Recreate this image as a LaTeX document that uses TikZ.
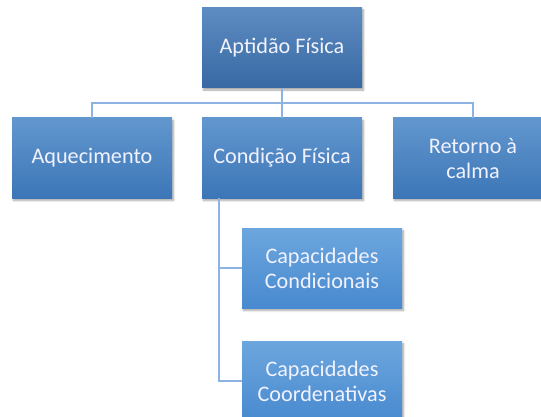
\documentclass[tikz,border=0pt]{standalone}
\usepackage{fontspec}
\setmainfont{Carlito}
\usepackage{xcolor}
\usetikzlibrary{shadows.blur}
\usetikzlibrary{positioning}

\definecolor{topA}{RGB}{92,140,193}
\definecolor{topB}{RGB}{57,105,163}
\definecolor{midA}{RGB}{98,151,206}
\definecolor{midB}{RGB}{60,118,183}
\definecolor{lowA}{RGB}{108,166,222}
\definecolor{lowB}{RGB}{72,138,207}
\definecolor{linkcol}{RGB}{141,179,226}

\begin{document}
\begin{tikzpicture}[x=1pt, y=-1pt,
	box/.style={rectangle, minimum width=160pt, minimum height=80pt, inner sep=2pt,
		text=white!95!blue, align=center, font=\fontsize{22.2}{25}\selectfont,
		blur shadow={shadow xshift=1.5pt, shadow yshift=-2.5pt, shadow blur steps=6, shadow opacity=35}},
	levelone/.style={box, top color=topA, bottom color=topB},
	leveltwo/.style={box, top color=midA, bottom color=midB},
	levelthree/.style={box, top color=lowA, bottom color=lowB},
	link/.style={draw=linkcol, line width=2pt}]

\useasboundingbox (0,0) rectangle (541,417);

% top
\node[levelone] (aptidao) at (282,47.5) {Aptidão Física};

% second row
\node[leveltwo] (aquec) at (92,158) {Aquecimento};
\node[leveltwo] (condicao) at (282,158) {Condição Física};
\node[leveltwo] (retorno) at (473,158) {Retorno à\\calma};

% under Condição Física
\node[levelthree] (condic) at (322,268) {Capacidades\\Condicionais};
\node[levelthree] (coorden) at (322,381) {Capacidades\\Coordenativas};

\coordinate (bus) at (282,103);
\coordinate (trunk) at (219,198);

\draw[link] (aptidao.south) -- (condicao.north);
\draw[link] (aquec.north) |- (bus) -| (retorno.north);
\draw[link] (trunk) |- (condic.west);
\draw[link] (trunk) |- (coorden.west);
\end{tikzpicture}
\end{document}
